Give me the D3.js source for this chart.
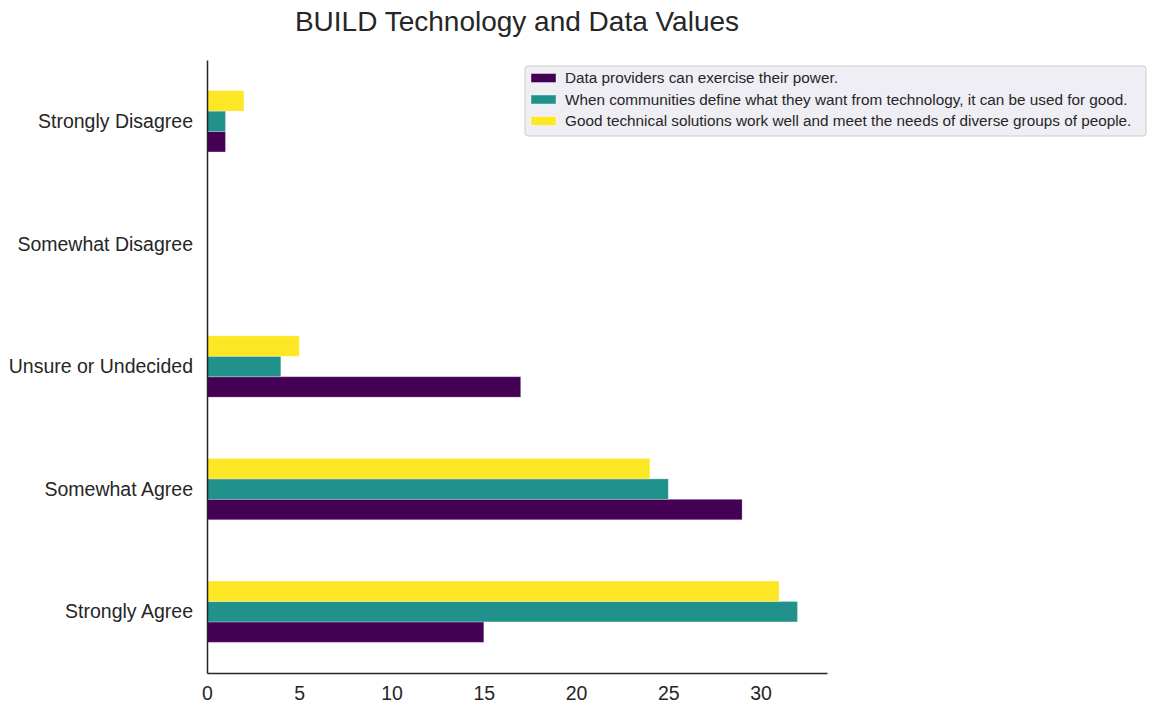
<!DOCTYPE html>
<html>
<head>
<meta charset="utf-8">
<script src="https://cdn.jsdelivr.net/npm/d3@7"></script>
<style>
  body { margin: 0; background: #fff; }
  svg { display: block; font-family: "Liberation Sans", Arial, sans-serif; }
</style>
</head>
<body>
<svg id="chart" width="1156" height="715"></svg>
<script>
// Data
const categories = ["Strongly Agree", "Somewhat Agree", "Unsure or Undecided", "Somewhat Disagree", "Strongly Disagree"];
const seriesNames = [
  "Data providers can exercise their power.",
  "When communities define what they want from technology, it can be used for good.",
  "Good technical solutions work well and meet the needs of diverse groups of people."
];
const dataProviders = [15, 29, 17, 0, 1];
const communitiesDefine = [32, 25, 4, 0, 1];
const goodSolutions = [31, 24, 5, 0, 2];
const xTicks = [0, 5, 10, 15, 20, 25, 30];
const colors = ["#440154", "#21918c", "#fde725"];

const seriesValues = [dataProviders, communitiesDefine, goodSolutions];

(function () {
const svg = d3.select("#chart");
const mLeft = 207, mRight = 827, mTop = 60, mBottom = 673;

const x = d3.scaleLinear().domain([0, 33.6]).range([mLeft, mRight]);
const y = d3.scaleLinear().domain([-0.5, categories.length - 0.5]).range([mBottom, mTop]);

const groupWidth = 0.5;
const barW = groupWidth / seriesValues.length;

// Bars
seriesValues.forEach((vals, si) => {
  svg.append("g").selectAll("rect")
    .data(vals)
    .join("rect")
    .attr("x", x(0))
    .attr("width", d => Math.max(0, x(d) - x(0)))
    .attr("y", (d, i) => y(i - groupWidth / 2 + (si + 1) * barW))
    .attr("height", y(0) - y(barW))
    .attr("fill", colors[si])
    .attr("stroke", d => d > 0 ? "#ffffff" : "none")
    .attr("stroke-opacity", 0.25)
    .attr("stroke-width", 1);
});

// Axes
const xAxis = d3.axisBottom(x).tickValues(xTicks).tickSize(0).tickPadding(13).tickFormat(d3.format("d"));
const gx = svg.append("g").attr("transform", `translate(0,${mBottom})`).call(xAxis);
gx.select(".domain").attr("stroke", "#262626").attr("stroke-width", 1.5);
gx.selectAll("text").attr("font-size", 19.5).attr("fill", "#262626").attr("font-family", "Liberation Sans, Arial, sans-serif");

const yAxis = d3.axisLeft(y).tickValues(d3.range(categories.length)).tickSize(0).tickPadding(14)
  .tickFormat(i => categories[i]);
const gy = svg.append("g").attr("transform", `translate(${mLeft},0)`).call(yAxis);
gy.select(".domain").attr("stroke", "#262626").attr("stroke-width", 1.5);
gy.selectAll("text").attr("font-size", 19.5).attr("fill", "#262626").attr("font-family", "Liberation Sans, Arial, sans-serif");

// Title
svg.append("text")
  .attr("x", (mLeft + mRight) / 2)
  .attr("y", 31)
  .attr("text-anchor", "middle")
  .attr("font-size", 28)
  .attr("fill", "#262626")
  .text("BUILD Technology and Data Values");

// Legend
const lg = svg.append("g").attr("transform", "translate(525,66)");
lg.append("rect")
  .attr("x", 0).attr("y", 0)
  .attr("width", 621).attr("height", 70)
  .attr("rx", 3)
  .attr("fill", "#efeef4")
  .attr("stroke", "#cccccc")
  .attr("stroke-width", 1);
seriesNames.forEach((name, i) => {
  const row = lg.append("g").attr("transform", `translate(0,${12 + i * 21.5})`);
  row.append("rect").attr("x", 6).attr("y", -4.5).attr("width", 25).attr("height", 9)
    .attr("fill", colors[i]).attr("stroke", "#ffffff").attr("stroke-opacity", 0.4);
  row.append("text").attr("x", 40).attr("y", 0).attr("dy", "0.35em")
    .attr("font-size", 15.3).attr("fill", "#262626").text(name);
});
})();
</script>
</body>
</html>
